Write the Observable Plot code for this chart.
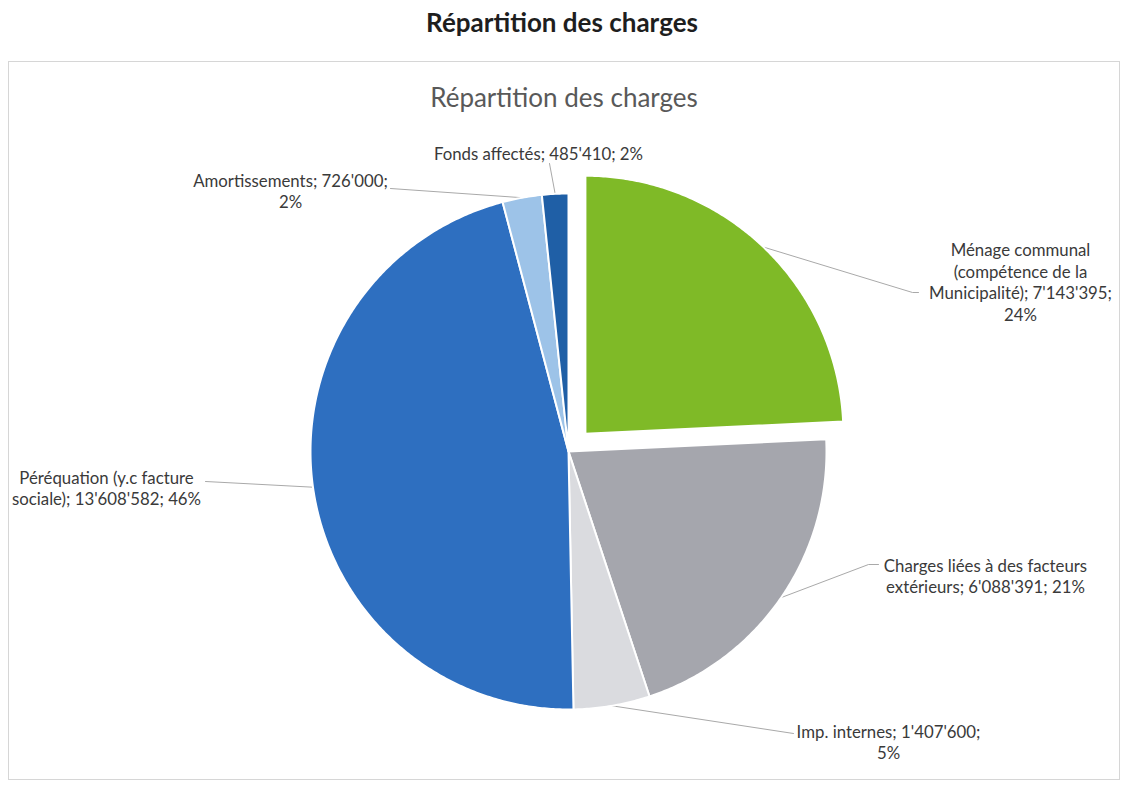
<!DOCTYPE html>
<html><head><meta charset="utf-8">
<script src="https://cdn.jsdelivr.net/npm/d3@7"></script>
<script src="https://cdn.jsdelivr.net/npm/@observablehq/plot@0.6"></script>
<style>
body{margin:0;background:#fff;font-family:Lato,"Open Sans",sans-serif;}
#page-title{height:61px;box-sizing:border-box;padding-top:7px;text-align:center;font-weight:bold;font-size:26px;color:#1e1e1e;line-height:30px;}
#box{margin-left:8px;width:1112px;height:719px;box-sizing:border-box;border:1px solid #d6d6d6;}
#inner-title{height:62px;box-sizing:border-box;padding-top:20px;text-align:center;font-size:26px;color:#595959;line-height:30px;}
#chart svg{display:block;}
</style></head><body>
<div id="page-title">Répartition des charges</div>
<div id="box"><div id="inner-title">Répartition des charges</div><div id="chart"></div></div>
<script>
// ---- data ----
const categories = [
  "Ménage communal (compétence de la Municipalité)",
  "Charges liées à des facteurs extérieurs",
  "Imp. internes",
  "Péréquation (y.c facture sociale)",
  "Amortissements",
  "Fonds affectés"
];
const values = [7143395, 6088391, 1407600, 13608582, 726000, 485410];
const colors = ["#7fba27", "#a5a6ad", "#dadbdf", "#2e6fc0", "#9dc3e8", "#1f5fa6"];
const explode = [0.095, 0, 0, 0, 0, 0];

// ---- layout (page pixels) ----
const W = 1110, H = 655;            // svg size
const svgLeft = 9, svgTop = 124;    // svg origin on the page
const cxPage = 568, cyPage = 451, R = 258;
const labelWrap = [25, 28, 25, 26, 25, 30];
const labelPos = [[1020, 281], [985, 575], [888, 741], [106, 487], [290, 190], [538, 153]];
const leaderEnds = [
  [[912, 292], [918, 292]],
  [[868, 564], [878, 564]],
  [[793, 733]],
  [[205, 481]],
  [[390, 188]],
  [[549, 163]]
];

const ux = px => (px - cxPage) / R;
const uy = py => (cyPage - py) / R;

const fmtNum = d3.formatLocale({decimal: ".", thousands: "'", grouping: [3], currency: ["", ""]}).format(",d");
const total = d3.sum(values);

function wrap(text, max) {
  const words = text.split(" ");
  const lines = [];
  let cur = "";
  for (const w of words) {
    if (cur === "") cur = w;
    else if ((cur + " " + w).length <= max) cur += " " + w;
    else { lines.push(cur); cur = w; }
  }
  if (cur) lines.push(cur);
  return lines.join("\n");
}

const arcs = d3.pie().sort(null).value(d => d)(values);
const slicePts = [];
const leaderPts = [];
const labels = [];
arcs.forEach((a, i) => {
  const mid = (a.startAngle + a.endAngle) / 2;
  const ox = explode[i] * Math.sin(mid), oy = explode[i] * Math.cos(mid);
  const name = categories[i];
  slicePts.push({name, x: ox, y: oy});
  const n = Math.max(2, Math.ceil((a.endAngle - a.startAngle) / (Math.PI / 360)));
  for (let k = 0; k <= n; k++) {
    const t = a.startAngle + (a.endAngle - a.startAngle) * k / n;
    slicePts.push({name, x: ox + Math.sin(t), y: oy + Math.cos(t)});
  }
  leaderPts.push({name, x: ox + Math.sin(mid), y: oy + Math.cos(mid)});
  for (const [px, py] of leaderEnds[i]) leaderPts.push({name, x: ux(px), y: uy(py)});
  const pct = Math.round(values[i] / total * 100);
  labels.push({
    name,
    text: wrap(`${name}; ${fmtNum(values[i])}; ${pct}%`, labelWrap[i]),
    x: ux(labelPos[i][0]),
    y: uy(labelPos[i][1])
  });
});

const chart = Plot.plot({
  width: W,
  height: H,
  margin: 0,
  style: {background: "transparent", fontFamily: "Lato, 'Open Sans', sans-serif"},
  x: {domain: [ux(svgLeft), ux(svgLeft + W)], axis: null},
  y: {domain: [uy(svgTop + H), uy(svgTop)], axis: null},
  color: {domain: categories, range: colors},
  marks: [
    Plot.line(leaderPts, {x: "x", y: "y", z: "name", stroke: "#a9a9a9", strokeWidth: 1}),
    Plot.line(slicePts, {x: "x", y: "y", z: "name", fill: "name", stroke: "white", strokeWidth: 2, strokeLinejoin: "round", curve: "linear-closed"}),
    Plot.text(labels, {x: "x", y: "y", text: "text", fontSize: 16.8, lineHeight: 1.29, fill: "#3a3a3a", textAnchor: "middle"})
  ]
});
document.getElementById("chart").appendChild(chart);
</script>
</body></html>
